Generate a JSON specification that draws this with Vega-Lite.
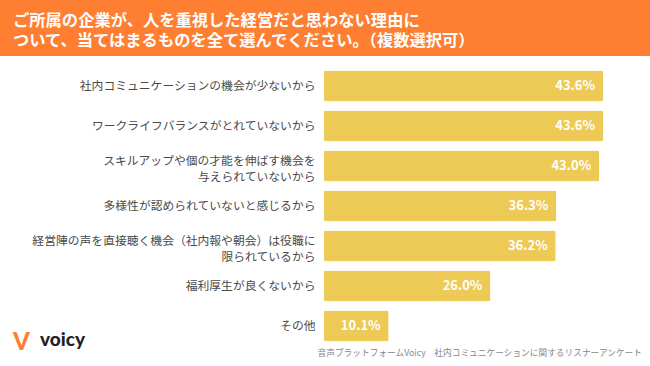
{
  "$schema": "https://vega.github.io/schema/vega-lite/v6.json",
  "padding": 0,
  "background": "white",
  "config": {
    "view": {"stroke": null},
    "font": "Noto Sans CJK JP"
  },
  "title": {
    "text": "V",
    "orient": "bottom",
    "anchor": "start",
    "frame": "bounds",
    "offset": -27,
    "dx": 13,
    "fontSize": 24,
    "fontWeight": 900,
    "font": "Lato",
    "color": "#FE7E32"
  },
  "vconcat": [
    {
      "title": {
        "text": "voicy",
        "orient": "bottom",
        "anchor": "start",
        "frame": "bounds",
        "offset": -27,
        "dx": 40,
        "fontSize": 19,
        "fontWeight": 900,
        "font": "Lato",
        "color": "#222222"
      },
      "spacing": 10,
      "vconcat": [
        {
          "width": 650,
          "height": 56,
          "view": {"fill": "#FE7E32", "stroke": null},
          "data": {"values": [
            {"line": "ご所属の企業が、人を重視した経営だと思わない理由に"},
            {"line": "ついて、当てはまるものを全て選んでください。（複数選択可）"}
          ]},
          "mark": {"type": "text", "align": "left", "baseline": "middle", "color": "white", "fontSize": 16.3, "fontWeight": "bold"},
          "encoding": {
            "y": {"field": "line", "type": "nominal", "sort": null, "axis": null, "scale": {"type": "point", "range": [20.5, 40.5], "padding": 0}},
            "x": {"value": 13},
            "text": {"field": "line"}
          }
        },
        {
          "width": 644,
          "height": 280,
          "data": {"values": [
            {"reason": "社内コミュニケーションの機会が少ないから", "pct": 0.436},
            {"reason": "ワークライフバランスがとれていないから", "pct": 0.436},
            {"reason": "スキルアップや個の才能を伸ばす機会を|与えられていないから", "pct": 0.430},
            {"reason": "多様性が認められていないと感じるから", "pct": 0.363},
            {"reason": "経営陣の声を直接聴く機会（社内報や朝会）は役職に|限られているから", "pct": 0.362},
            {"reason": "福利厚生が良くないから", "pct": 0.260},
            {"reason": "その他", "pct": 0.101}
          ]},
          "title": {
            "text": "音声プラットフォームVoicy　社内コミュニケーションに関するリスナーアンケート",
            "orient": "bottom",
            "anchor": "end",
            "frame": "group",
            "fontSize": 8.7,
            "fontWeight": "normal",
            "color": "#888888",
            "offset": 3,
            "dx": -2
          },
          "encoding": {
            "y": {
              "field": "reason", "type": "nominal", "sort": null,
              "scale": {"paddingInner": 0.225, "paddingOuter": 0.1125},
              "axis": {
                "title": null, "domain": false, "ticks": false, "labelPadding": 9,
                "labelFontSize": 11.8, "labelColor": "#4A4A4A", "labelLimit": 400,
                "offset": -324, "minExtent": 0,
                "labelOffset": {"condition": {"test": "indexof(datum.label, '|') >= 0", "value": -5}, "value": 0},
                "labelExpr": "split(datum.label, '|')", "labelLineHeight": 16
              }
            },
            "x": {"field": "pct", "type": "quantitative", "scale": {"domain": [-0.50625, 0.5], "nice": false, "zero": false}, "axis": null}
          },
          "layer": [
            {"mark": {"type": "bar", "color": "#EDC955", "cornerRadius": 2}},
            {
              "mark": {"type": "text", "align": "right", "baseline": "middle", "dx": -8, "color": "white", "fontWeight": "bold", "fontSize": 13},
              "encoding": {"text": {"field": "pct", "type": "quantitative", "format": ".1%"}}
            }
          ]
        }
      ]
    }
  ]
}
